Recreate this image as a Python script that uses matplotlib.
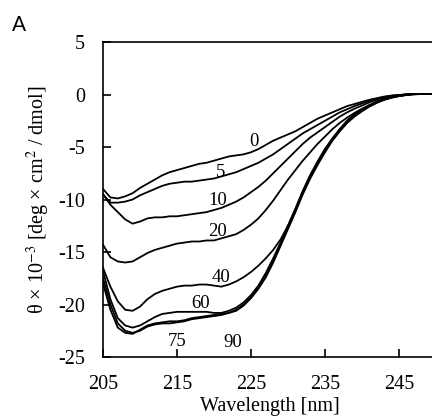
import numpy as np
import matplotlib
matplotlib.use("Agg")
import matplotlib.pyplot as plt

plt.rcParams['font.family'] = ['Liberation Serif', 'DejaVu Serif']
plt.rcParams['mathtext.fontset'] = 'stix'
plt.rcParams['axes.unicode_minus'] = False

wavelength = np.arange(205, 251)

curve_0 = [-9.0, -9.8, -9.9, -9.7, -9.4, -8.9, -8.5, -8.1, -7.7, -7.4,
           -7.2, -7.0, -6.8, -6.6, -6.5, -6.3, -6.1, -5.9, -5.8, -5.7,
           -5.5, -5.2, -4.8, -4.4, -4.1, -3.8, -3.5, -3.1, -2.7, -2.3,
           -2.0, -1.7, -1.4, -1.1, -0.9, -0.7, -0.5, -0.35, -0.2, -0.1,
           -0.05, 0.0, 0.05, 0.05, 0.05, 0.05]
curve_5 = [-9.5, -10.3, -10.3, -10.2, -10.0, -9.6, -9.3, -9.0, -8.7, -8.5,
           -8.4, -8.3, -8.3, -8.2, -8.1, -8.0, -7.8, -7.6, -7.4, -7.1,
           -6.8, -6.5, -6.1, -5.7, -5.2, -4.7, -4.2, -3.7, -3.3, -2.9,
           -2.5, -2.1, -1.7, -1.4, -1.1, -0.85, -0.6, -0.4, -0.25, -0.12,
           -0.05, 0.0, 0.05, 0.05, 0.05, 0.05]
curve_10 = [-9.5, -10.5, -11.2, -11.9, -12.3, -12.1, -11.8, -11.7, -11.7, -11.6,
            -11.6, -11.5, -11.4, -11.3, -11.2, -11.0, -10.8, -10.5, -10.2, -9.8,
            -9.3, -8.8, -8.2, -7.5, -6.8, -6.1, -5.4, -4.7, -4.1, -3.6,
            -3.1, -2.6, -2.1, -1.7, -1.35, -1.05, -0.75, -0.5, -0.3, -0.15,
            -0.05, 0.0, 0.05, 0.05, 0.05, 0.05]
curve_20 = [-14.3, -15.5, -15.9, -16.0, -15.9, -15.5, -15.1, -14.8, -14.6, -14.4,
            -14.2, -14.1, -14.0, -14.0, -13.9, -13.9, -13.7, -13.5, -13.3, -12.9,
            -12.4, -11.8, -11.0, -10.1, -9.1, -8.1, -7.2, -6.3, -5.5, -4.7,
            -4.0, -3.3, -2.7, -2.2, -1.75, -1.35, -1.0, -0.7, -0.45, -0.25,
            -0.1, 0.0, 0.05, 0.05, 0.05, 0.05]
curve_40 = [-16.5, -18.3, -19.7, -20.5, -20.6, -20.2, -19.5, -19.0, -18.7, -18.5,
            -18.3, -18.2, -18.2, -18.1, -18.1, -18.2, -18.3, -18.1, -17.8, -17.4,
            -16.9, -16.3, -15.6, -14.8, -13.8, -12.5, -10.9, -9.2, -7.7, -6.4,
            -5.2, -4.2, -3.3, -2.5, -1.9, -1.45, -1.05, -0.7, -0.45, -0.25,
            -0.12, -0.03, 0.05, 0.05, 0.05, 0.05]
curve_60 = [-16.8, -19.5, -21.3, -22.0, -22.2, -22.0, -21.6, -21.2, -20.9, -20.8,
            -20.7, -20.7, -20.7, -20.7, -20.7, -20.8, -20.8, -20.6, -20.3, -19.8,
            -19.1, -18.2, -17.0, -15.6, -14.1, -12.5, -10.9, -9.2, -7.7, -6.4,
            -5.2, -4.2, -3.3, -2.5, -1.9, -1.45, -1.05, -0.7, -0.45, -0.25,
            -0.12, -0.03, 0.05, 0.05, 0.05, 0.05]
curve_75 = [-17.5, -20.0, -21.8, -22.5, -22.7, -22.5, -22.1, -21.9, -21.8, -21.8,
            -21.7, -21.6, -21.4, -21.3, -21.2, -21.1, -21.0, -20.8, -20.5, -20.0,
            -19.3, -18.4, -17.3, -15.9, -14.3, -12.7, -11.1, -9.4, -7.9, -6.6,
            -5.4, -4.3, -3.4, -2.6, -2.0, -1.5, -1.1, -0.75, -0.5, -0.3,
            -0.15, -0.05, 0.05, 0.05, 0.05, 0.05]
curve_90 = [-18.0, -20.5, -22.2, -22.7, -22.8, -22.4, -22.0, -21.8, -21.7, -21.6,
            -21.6, -21.5, -21.3, -21.2, -21.1, -21.0, -20.9, -20.8, -20.6, -20.1,
            -19.4, -18.5, -17.4, -16.0, -14.4, -12.8, -11.2, -9.5, -8.0, -6.7,
            -5.5, -4.4, -3.5, -2.7, -2.1, -1.6, -1.15, -0.8, -0.5, -0.3,
            -0.15, -0.05, 0.0, 0.05, 0.05, 0.05]

curves = [curve_0, curve_5, curve_10, curve_20, curve_40, curve_60, curve_75, curve_90]
labels = ["0", "5", "10", "20", "40", "60", "75", "90"]
label_x = [225.4, 220.9, 220.5, 220.5, 220.9, 218.2, 215.0, 222.5]
label_y = [-4.5, -7.4, -10.1, -13.0, -17.4, -19.9, -23.5, -23.6]

xticks = [205, 215, 225, 235, 245]
yticks = [5, 0, -5, -10, -15, -20, -25]

fig = plt.figure(figsize=(4.32, 4.16), dpi=100)
ax = fig.add_axes([103/432, 59/416, 333/432, 315/416])

for c in curves:
    ax.plot(wavelength, c, color='black', lw=1.3)

for t, x, y in zip(labels, label_x, label_y):
    ax.text(x, y, t, fontsize=13.5, ha='center', va='center')

ax.set_xlim(205, 250)
ax.set_ylim(-25, 5)
ax.set_xticks(xticks)
ax.set_yticks(yticks)
ax.set_xticklabels([str(v) for v in xticks])
ax.set_yticklabels([str(v) for v in yticks])
ax.tick_params(axis='both', direction='in', length=6, width=1.2, labelsize=14.5)
ax.tick_params(axis='x', pad=13)
ax.tick_params(axis='y', pad=13)
for s in ['left', 'bottom', 'top']:
    ax.spines[s].set_linewidth(1.2)
ax.spines['right'].set_visible(False)

ax.set_xlabel('Wavelength [nm]', fontsize=14.5, labelpad=2)
ax.set_ylabel(r'θ × 10$^{-3}$ [deg × cm$^{2}$ / dmol]', fontsize=14.5)
ax.yaxis.set_label_coords(-0.152, 0.5)

fig.text(12/432, 1 - 25/416, 'A', fontsize=15, family='Lato', va='center', ha='left')

fig.savefig('out.png', dpi=100)
